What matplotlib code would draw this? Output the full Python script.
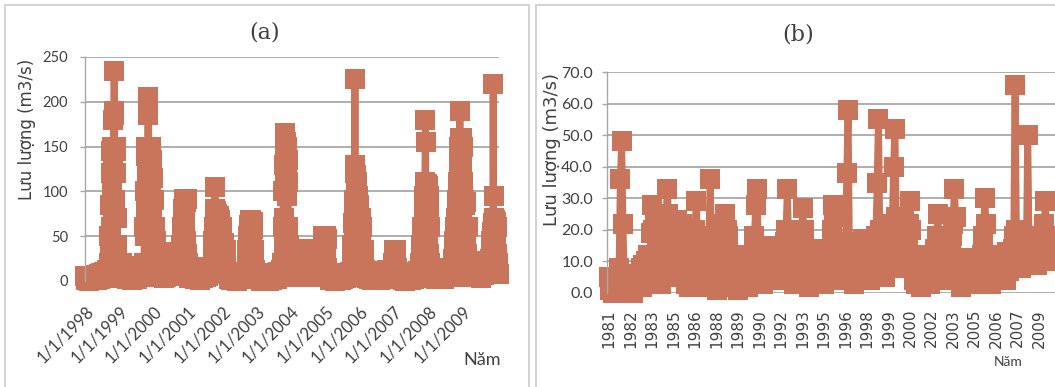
import numpy as np
import matplotlib
matplotlib.use("Agg")
import matplotlib.pyplot as plt
from matplotlib.patches import Rectangle

# ------------------------------------------------------------------ data (a)
xticks_a = [1998, 1999, 2000, 2001, 2002, 2003, 2004, 2005, 2006, 2007, 2008, 2009]
xlabels_a = ["1/1/1998", "1/1/1999", "1/1/2000", "1/1/2001", "1/1/2002", "1/1/2003",
             "1/1/2004", "1/1/2005", "1/1/2006", "1/1/2007", "1/1/2008", "1/1/2009"]
yticks_a = [0, 50, 100, 150, 200, 250]

# decimal-year dates and discharge (m3/s)
t_a = [
    1998.00, 1998.04, 1998.08, 1998.12, 1998.16, 1998.20, 1998.24, 1998.28, 1998.32, 1998.36,
    1998.40, 1998.44, 1998.48, 1998.52, 1998.56, 1998.60, 1998.64, 1998.68,
    1998.70, 1998.71, 1998.72, 1998.73, 1998.74, 1998.75, 1998.76, 1998.77, 1998.78, 1998.79,
    1998.80, 1998.81, 1998.82, 1998.83, 1998.84, 1998.85, 1998.86, 1998.87, 1998.88, 1998.89,
    1998.90, 1998.91, 1998.92, 1998.93, 1998.94,
    1998.97, 1999.01, 1999.05, 1999.09, 1999.13, 1999.17, 1999.21, 1999.25, 1999.29, 1999.33,
    1999.37, 1999.41, 1999.45, 1999.49, 1999.53, 1999.57, 1999.61, 1999.65, 1999.69,
    1999.72, 1999.73, 1999.74, 1999.75, 1999.76, 1999.77, 1999.78, 1999.79, 1999.80, 1999.81,
    1999.82, 1999.83, 1999.84, 1999.85, 1999.86, 1999.87, 1999.88, 1999.89, 1999.90, 1999.91,
    1999.92, 1999.93, 1999.94, 1999.95, 1999.96, 1999.97, 1999.98, 1999.99,
    2000.00, 2000.02, 2000.04, 2000.06, 2000.08, 2000.10,
    2000.13, 2000.17, 2000.21, 2000.25, 2000.29, 2000.33, 2000.37, 2000.41, 2000.45, 2000.49, 2000.53,
    2000.56, 2000.59, 2000.62, 2000.65, 2000.68, 2000.71, 2000.74, 2000.77,
    2000.80, 2000.82, 2000.84, 2000.85, 2000.86, 2000.87, 2000.88, 2000.89, 2000.90, 2000.91,
    2000.92, 2000.93, 2000.94, 2000.95, 2000.96, 2000.97, 2000.99,
    2001.00, 2001.04, 2001.08, 2001.12, 2001.16, 2001.20, 2001.24, 2001.28, 2001.32, 2001.36,
    2001.40, 2001.44, 2001.48, 2001.52, 2001.56, 2001.60, 2001.64, 2001.68,
    2001.72, 2001.74, 2001.75, 2001.76, 2001.77, 2001.78, 2001.79, 2001.80, 2001.81, 2001.82,
    2001.83, 2001.84, 2001.86, 2001.88, 2001.90, 2001.92, 2001.94, 2001.96, 2001.98, 2002.00,
    2002.02, 2002.04, 2002.06, 2002.08, 2002.10, 2002.12,
    2002.15, 2002.19, 2002.23, 2002.27, 2002.31, 2002.35, 2002.39, 2002.43, 2002.47, 2002.51,
    2002.55, 2002.59, 2002.63, 2002.67,
    2002.71, 2002.73, 2002.75, 2002.76, 2002.77, 2002.78, 2002.79, 2002.80, 2002.81, 2002.82,
    2002.83, 2002.84, 2002.85, 2002.86, 2002.87, 2002.88, 2002.89, 2002.90, 2002.91, 2002.92,
    2002.93, 2002.95, 2002.97,
    2003.00, 2003.04, 2003.08, 2003.12, 2003.16, 2003.20, 2003.24, 2003.28, 2003.32, 2003.36,
    2003.40, 2003.44, 2003.48, 2003.52, 2003.56, 2003.60, 2003.64, 2003.68, 2003.72,
    2003.75, 2003.76, 2003.77, 2003.78, 2003.79, 2003.80, 2003.81, 2003.82, 2003.83, 2003.84,
    2003.85, 2003.86, 2003.87, 2003.88, 2003.89, 2003.90, 2003.91, 2003.92, 2003.93, 2003.94,
    2003.96, 2004.00, 2004.04, 2004.08, 2004.12, 2004.16, 2004.20, 2004.24, 2004.28, 2004.32,
    2004.36, 2004.40, 2004.44, 2004.48, 2004.52, 2004.56, 2004.60, 2004.64, 2004.68, 2004.72,
    2004.76, 2004.80, 2004.84, 2004.88, 2004.92,
    2004.94, 2004.95, 2004.96, 2004.97, 2004.98, 2004.99, 2005.00, 2005.01, 2005.02, 2005.03,
    2005.04, 2005.05, 2005.06,
    2005.09, 2005.13, 2005.17, 2005.21, 2005.25, 2005.29, 2005.33, 2005.37, 2005.41, 2005.45,
    2005.49, 2005.53, 2005.57, 2005.61, 2005.65, 2005.69, 2005.73,
    2005.78, 2005.79, 2005.80, 2005.81, 2005.82, 2005.83, 2005.84, 2005.85, 2005.86, 2005.87,
    2005.88, 2005.89, 2005.90, 2005.91, 2005.92, 2005.93, 2005.94, 2005.95, 2005.96,
    2005.98, 2006.00, 2006.02, 2006.04, 2006.06, 2006.08, 2006.10, 2006.12, 2006.14,
    2006.17, 2006.21, 2006.25, 2006.29, 2006.33, 2006.37, 2006.41, 2006.45, 2006.49, 2006.53,
    2006.57, 2006.61, 2006.65, 2006.69, 2006.73, 2006.77, 2006.81, 2006.85, 2006.89, 2006.93,
    2006.96, 2006.98, 2007.00, 2007.02, 2007.04, 2007.06, 2007.08, 2007.10,
    2007.14, 2007.18, 2007.22, 2007.26, 2007.30, 2007.34, 2007.38, 2007.42, 2007.46, 2007.50,
    2007.54, 2007.58, 2007.62, 2007.66, 2007.70, 2007.74,
    2007.77, 2007.79, 2007.81, 2007.83, 2007.85, 2007.87, 2007.88, 2007.89, 2007.90, 2007.91,
    2007.92, 2007.93, 2007.94, 2007.95, 2007.96, 2007.97, 2007.98, 2007.99, 2008.00, 2008.01,
    2008.02, 2008.03, 2008.04, 2008.05, 2008.06, 2008.08,
    2008.11, 2008.15, 2008.19, 2008.23, 2008.27, 2008.31, 2008.35, 2008.39, 2008.43, 2008.47,
    2008.51, 2008.55, 2008.59, 2008.63, 2008.67, 2008.71,
    2008.74, 2008.76, 2008.78, 2008.80, 2008.82, 2008.84,
    2008.85, 2008.86, 2008.87, 2008.88, 2008.89, 2008.90, 2008.91, 2008.92, 2008.93, 2008.94,
    2008.95, 2008.96, 2008.97, 2008.98, 2008.99, 2009.00, 2009.01, 2009.02,
    2009.04, 2009.06, 2009.08, 2009.10, 2009.12, 2009.14, 2009.16,
    2009.19, 2009.23, 2009.27, 2009.31, 2009.35, 2009.39, 2009.43, 2009.47, 2009.51, 2009.55,
    2009.59, 2009.63, 2009.67, 2009.71, 2009.75, 2009.79,
    2009.82, 2009.84,
    2009.86, 2009.87, 2009.88, 2009.89, 2009.90, 2009.91, 2009.92, 2009.93, 2009.94, 2009.95,
    2009.96, 2009.97, 2009.98, 2009.99, 2010.00, 2010.01, 2010.02, 2010.03, 2010.04, 2010.05,
    2010.06,
]
q_a = [
    6, 1, 5, 0, 5, 1, 6, 2, 7, 1, 8, 2, 9, 3, 10, 4, 12, 6,
    20, 50, 10, 85, 40, 120, 60, 145, 30, 150, 100, 140, 80, 180, 190, 234, 185, 150, 90, 145,
    120, 150, 70, 40, 20,
    5, 18, 3, 20, 6, 17, 2, 15, 4, 14, 1, 13, 3, 12, 2, 14, 5, 16, 8,
    20, 60, 10, 100, 50, 140, 80, 150, 110, 145, 120, 185, 205, 195, 150, 90, 145, 130, 150, 60,
    150, 100, 135, 80, 125, 60, 115, 40,
    90, 30, 60, 20, 45, 15,
    4, 20, 6, 18, 3, 19, 5, 17, 8, 20, 6,
    30, 10, 32, 8, 28, 15, 31, 20,
    40, 25, 60, 35, 80, 50, 92, 70, 90, 60, 91, 75, 88, 45, 92, 30, 20,
    15, 3, 16, 5, 14, 2, 12, 4, 13, 1, 12, 3, 14, 5, 15, 6, 16, 8,
    25, 45, 15, 60, 35, 80, 105, 70, 50, 78, 30, 66, 75, 40, 72, 55, 68, 25, 60, 45,
    38, 20, 42, 30, 35, 12,
    10, 2, 9, 1, 8, 2, 7, 0, 8, 2, 9, 3, 10, 5,
    20, 35, 12, 50, 30, 62, 45, 68, 20, 66, 40, 55, 68, 30, 62, 50, 66, 25, 58, 35,
    20, 12, 8,
    9, 2, 8, 0, 7, 1, 8, 2, 6, 0, 7, 1, 9, 3, 8, 2, 10, 4, 12,
    20, 60, 10, 100, 40, 130, 70, 145, 110, 165, 150, 130, 155, 95, 150, 120, 135, 110, 60, 40,
    35, 10, 34, 20, 36, 5, 33, 18, 35, 8, 34, 22, 36, 12, 35, 4, 33, 20, 36, 15,
    34, 8, 35, 18, 36,
    50, 20, 49, 35, 50, 10, 48, 30, 50, 25, 49, 15, 47,
    8, 1, 9, 2, 7, 0, 8, 3, 9, 1, 8, 2, 7, 3, 9, 4, 10,
    20, 40, 10, 65, 35, 80, 50, 90, 120, 225, 130, 105, 70, 118, 85, 110, 60, 95, 40,
    85, 65, 30, 70, 45, 60, 20, 35, 10,
    12, 3, 11, 2, 10, 1, 9, 2, 11, 3, 10, 1, 9, 2, 11, 3, 12, 4, 10, 5,
    12, 20, 35, 10, 34, 25, 35, 15,
    10, 2, 9, 1, 8, 0, 9, 2, 10, 1, 8, 2, 9, 3, 11, 5,
    20, 40, 12, 60, 30, 75, 45, 95, 60, 110, 180, 155, 85, 105, 50, 108, 70, 100, 40, 106,
    80, 95, 30, 60, 20, 10,
    14, 3, 13, 2, 12, 4, 14, 3, 13, 2, 12, 5, 14, 4, 13, 8,
    25, 45, 15, 60, 70, 35,
    90, 55, 110, 75, 130, 150, 95, 160, 190, 155, 120, 140, 100, 160, 130, 80, 150, 110,
    90, 60, 85, 40, 88, 30, 60,
    20, 5, 22, 8, 18, 4, 20, 6, 22, 3, 19, 7, 21, 9, 22, 12,
    25, 45,
    15, 55, 30, 65, 220, 95, 60, 70, 40, 68, 20, 66, 50, 62, 30, 60, 25, 20, 10, 15,
    8,
]

# ------------------------------------------------------------------ data (b)
xlabels_b = ["1981", "1982", "1983", "1985", "1986", "1988", "1989", "1990", "1992", "1993",
             "1995", "1996", "1998", "1999", "2000", "2002", "2003", "2005", "2006", "2007", "2009"]
label_step_b = 17          # one category label every 17 months
yticks_b = [0, 10, 20, 30, 40, 50, 60, 70]
ylabels_b = ["0.0", "10.0", "20.0", "30.0", "40.0", "50.0", "60.0", "70.0"]
start_b = 1981
# monthly discharge (m3/s), Jan 1981 onward
q_b = [
    5, 1, 4, 0, 5, 2, 4, 1, 8, 36, 48, 22,          # 1981
    6, 1, 4, 0, 3, 1, 4, 0, 5, 2, 6, 3,             # 1982
    3, 8, 2, 9, 4, 10, 3, 12, 8, 19, 28, 20,        # 1983
    24, 12, 18, 6, 14, 3, 12, 5, 16, 22, 33, 25,    # 1984
    20, 8, 22, 5, 18, 10, 23, 6, 20, 12, 22, 15,    # 1985
    10, 3, 14, 2, 12, 5, 16, 8, 20, 29, 18, 12,     # 1986
    8, 2, 10, 4, 9, 3, 12, 18, 36, 14, 10, 5,       # 1987
    6, 1, 8, 3, 7, 12, 15, 22, 25, 20, 18, 8,       # 1988
    4, 10, 2, 11, 3, 9, 1, 10, 4, 12, 6, 10,        # 1989
    3, 9, 2, 10, 4, 8, 12, 18, 28, 33, 15, 8,       # 1990
    5, 12, 3, 14, 6, 15, 4, 13, 8, 15, 10, 14,      # 1991
    6, 13, 4, 12, 7, 14, 10, 16, 20, 33, 15, 8,     # 1992
    5, 14, 3, 15, 6, 13, 9, 18, 16, 27, 20, 12,     # 1993
    4, 12, 2, 13, 5, 11, 3, 12, 6, 14, 8, 12,       # 1994
    5, 11, 3, 12, 6, 10, 8, 14, 20, 28, 24, 10,     # 1995
    6, 12, 4, 14, 8, 13, 10, 16, 38, 58, 15, 10,    # 1996
    5, 14, 3, 15, 6, 13, 8, 16, 12, 17, 14, 10,     # 1997
    6, 14, 4, 15, 8, 12, 14, 18, 35, 55, 20, 12,    # 1998
    8, 15, 5, 16, 10, 14, 12, 20, 22, 40, 52, 24,   # 1999
    20, 12, 18, 8, 15, 10, 16, 12, 18, 22, 29, 20,  # 2000
    10, 4, 12, 3, 11, 5, 10, 2, 12, 6, 11, 8,       # 2001
    5, 11, 3, 12, 6, 10, 14, 18, 25, 16, 12, 8,     # 2002
    6, 12, 4, 11, 8, 13, 15, 18, 22, 33, 24, 10,    # 2003
    5, 10, 2, 11, 4, 9, 3, 10, 5, 11, 6, 10,        # 2004
    4, 10, 3, 11, 5, 9, 8, 12, 18, 30, 22, 10,      # 2005
    5, 11, 3, 12, 4, 10, 6, 12, 5, 11, 7, 12,       # 2006
    6, 12, 4, 13, 7, 11, 10, 14, 18, 66, 20, 12,    # 2007
    10, 15, 8, 16, 12, 18, 14, 50, 16, 18, 14, 12,  # 2008
    10, 16, 9, 18, 12, 17, 14, 18, 22, 29, 18, 14,  # 2009
    12, 16, 10, 17, 13, 15,                         # 2010
]

# ------------------------------------------------------------------ style
W, H = 1055, 387
COL = "#C8755B"
GRID = "#a8a8a8"
TXT = "#404040"
FR = "#cfcfcf"
LW, MS = 5.0, 14

fig = plt.figure(figsize=(W / 100, H / 100), dpi=100)
fig.patch.set_facecolor("white")

# panel frames
fig.add_artist(Rectangle((5 / W, -0.02), (529 - 5) / W, 1.02 - 5 / H,
                         transform=fig.transFigure, fill=False, ec=FR, lw=1.3))
fig.add_artist(Rectangle((536 / W, -0.02), (1070 - 536) / W, 1.02 - 5 / H,
                         transform=fig.transFigure, fill=False, ec=FR, lw=1.3))


def style_axes(ax, ticks, labels, ysize, ypad):
    for s in ("top", "right", "bottom"):
        ax.spines[s].set_visible(False)
    ax.spines["left"].set_color(GRID)
    ax.spines["left"].set_linewidth(1.0)
    ax.set_yticks(ticks)
    ax.set_yticklabels(labels, family=["Lato", "DejaVu Sans"], size=ysize, color=TXT)
    ax.tick_params(axis="y", length=3.6, width=1.0, color=GRID, pad=ypad)
    ax.yaxis.grid(True, color=GRID, lw=1.3)
    ax.set_axisbelow(True)


# ------------------------------------------------------------------ panel (a)
axa = fig.add_axes([85 / W, 1 - 281 / H, 414 / W, 224 / H])
axa.plot(t_a, q_a, color=COL, lw=LW, marker="s", ms=MS, mew=0, clip_on=False)
axa.set_xlim(1998.0, 2010.07)
axa.set_ylim(0, 250)
style_axes(axa, yticks_a, [str(v) for v in yticks_a], 10.5, 8.5)
axa.set_xticks(xticks_a)
axa.set_xticklabels(xlabels_a, rotation=45, ha="right", rotation_mode="anchor",
                    family=["Lato", "DejaVu Sans"], size=12, color=TXT)
axa.tick_params(axis="x", length=0, pad=15.5)

fig.text(265 / W, 1 - 33 / H, "(a)", ha="center", va="center",
         family="DejaVu Serif", size=16, color=TXT)
fig.text(27 / W, 1 - 129 / H, "Lưu lượng (m3/s)", rotation=90, ha="center", va="center",
         family="DejaVu Sans", size=12, color=TXT)
fig.text(482 / W, 1 - 360 / H, "Năm", ha="center", va="center",
         family=["Lato", "DejaVu Sans"], size=13, color=TXT)

# ------------------------------------------------------------------ panel (b)
t_b = start_b + np.arange(len(q_b)) / 12.0
axb = fig.add_axes([607 / W, 1 - 293 / H, 448 / W, 221 / H])
axb.plot(t_b, q_b, color=COL, lw=LW, marker="s", ms=MS, mew=0, clip_on=False)
axb.set_xlim(start_b - 2 / 15.18, start_b + 446 / 15.18)
axb.set_ylim(0, 70)
style_axes(axb, yticks_b, ylabels_b, 11.5, 6.5)
tick_pos_b = start_b + np.arange(len(xlabels_b)) * label_step_b / 12.0
axb.set_xticks(tick_pos_b)
axb.set_xticklabels(xlabels_b, rotation=90, ha="center", va="top",
                    family="DejaVu Sans", size=11, color=TXT)
axb.tick_params(axis="x", length=0, pad=11.5)

fig.text(798 / W, 1 - 34 / H, "(b)", ha="center", va="center",
         family="DejaVu Serif", size=16, color=TXT)
fig.text(552 / W, 1 - 150 / H, "Lưu lượng (m3/s)", rotation=90, ha="center", va="center",
         family="DejaVu Sans", size=13, color=TXT)
fig.text(1008 / W, 1 - 362 / H, "Năm", ha="center", va="center",
         family=["Lato", "DejaVu Sans"], size=10, color=TXT)

fig.savefig("out.png", dpi=100, facecolor="white")
